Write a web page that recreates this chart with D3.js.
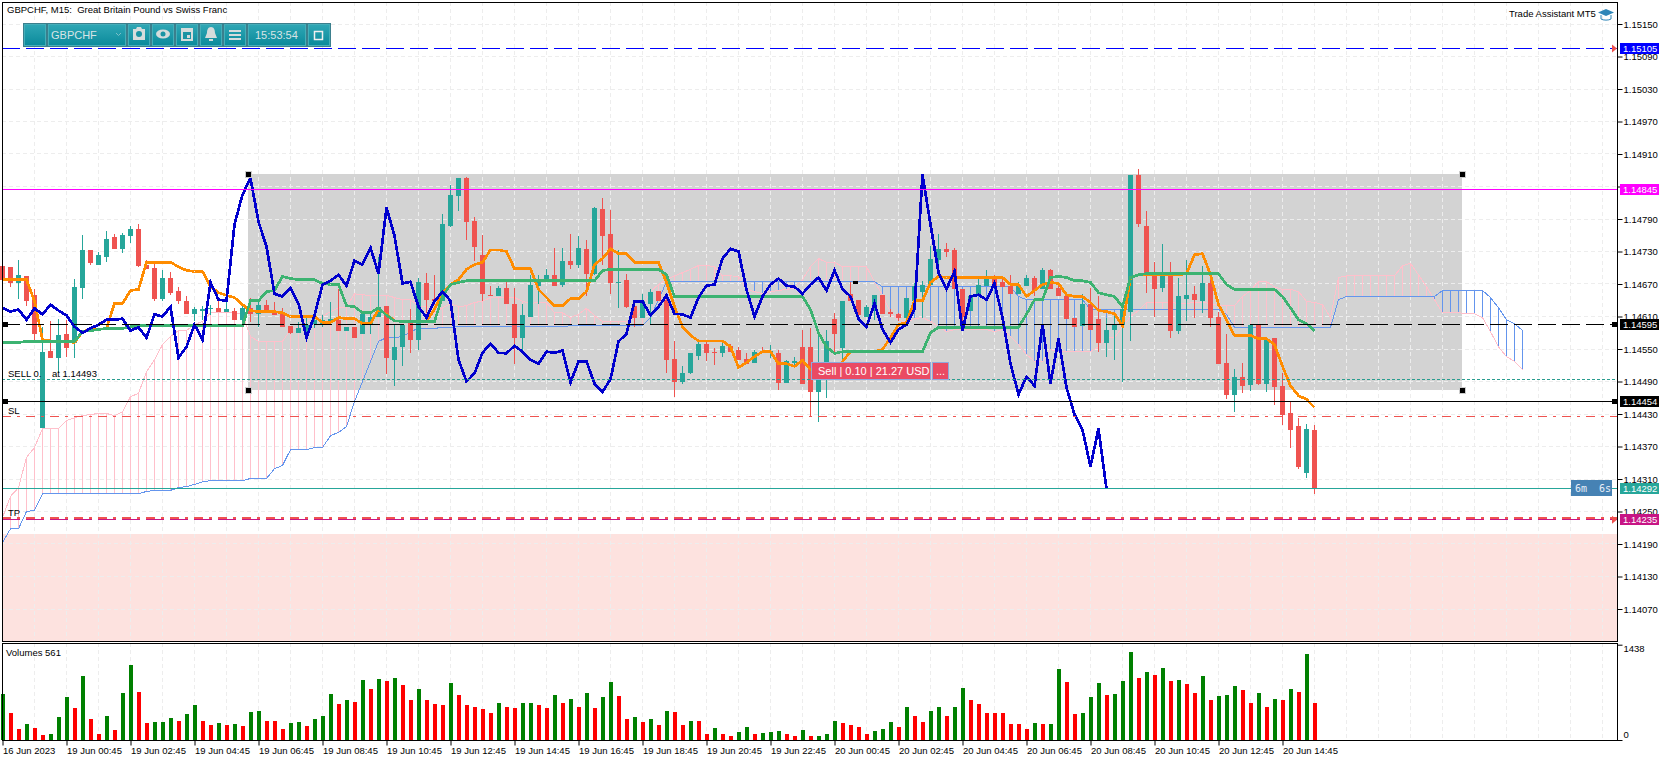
<!DOCTYPE html>
<html lang="en">
<head>
<meta charset="utf-8">
<title>GBPCHF, M15</title>
<script src="https://d3js.org/d3.v7.min.js"></script>
<style type="text/css">
	html, body { margin: 0; padding: 0; background: #fff; overflow: hidden; }
	svg { display: block; }
	text { font-family: "Liberation Sans", sans-serif; font-size: 9.5px; fill: #000; }
	.tick text { font-family: "Liberation Sans", sans-serif; font-size: 9.5px; }
</style>
</head>
<body>
<script type="text/javascript">
// prices are kept in points (1.14595 -> 114595)
var opens = [114704,114702,114671,114684,114649,114405,114547,114534,114577,114562,
114663,114732,114706,114719,114756,114735,114759,114772,114706,114700,
114643,114682,114658,114639,114615,114621,114623,114625,114619,114621,
114604,114625,114614,114632,114621,114615,114593,114580,114582,114597,
114595,114599,114604,114584,114590,114577,114595,114610,114630,114530,
114553,114599,114567,114671,114643,114638,114778,114833,114865,114787,
114724,114650,114647,114663,114634,114571,114610,114667,114676,114687,
114669,114713,114706,114735,114689,114809,114763,114671,114678,114630,
114608,114634,114658,114641,114532,114490,114505,114538,114560,114545,
114542,114556,114549,114532,114525,114547,114545,114543,114488,114525,
114554,114554,114471,114508,114606,114551,114652,114641,114610,114623,
114649,114619,114614,114608,114638,114656,114669,114715,114735,114732,
114660,114621,114649,114667,114682,114673,114667,114652,114667,114682,
114660,114695,114663,114647,114608,114593,114634,114606,114562,114586,
114595,114619,114872,114778,114693,114663,114693,114584,114643,114652,
114639,114671,114610,114525,114466,114499,114484,114595,114486,114571,
114482,114431,114407,114322,114401];
var closes = [114678,114671,114687,114639,114577,114545,114534,114575,114551,114665,
114732,114708,114724,114754,114735,114761,114772,114704,114698,114643,
114682,114654,114639,114614,114623,114623,114626,114619,114623,114604,
114625,114614,114632,114621,114612,114591,114580,114588,114595,114604,
114604,114606,114584,114590,114571,114614,114610,114628,114534,114554,
114595,114567,114673,114641,114639,114780,114835,114865,114785,114739,
114652,114647,114663,114634,114571,114612,114669,114676,114687,114667,
114713,114706,114737,114689,114811,114759,114671,114674,114628,114608,
114638,114656,114639,114530,114490,114505,114543,114560,114543,114542,
114556,114545,114530,114523,114545,114543,114547,114488,114527,114527,
114486,114471,114494,114564,114578,114638,114638,114612,114628,114649,
114615,114614,114608,114645,114667,114669,114717,114735,114730,114660,
114610,114647,114669,114680,114667,114665,114652,114669,114682,114658,
114695,114661,114647,114606,114591,114634,114586,114562,114586,114595,
114623,114872,114780,114691,114661,114693,114584,114647,114650,114641,
114671,114608,114523,114466,114499,114482,114595,114486,114569,114479,
114429,114401,114333,114403,114292];
var highs = [114706,114702,114715,114684,114660,114590,114602,114606,114604,114680,
114761,114732,114730,114767,114763,114765,114778,114780,114715,114708,
114695,114693,114665,114647,114628,114630,114632,114641,114636,114626,
114630,114645,114638,114641,114636,114626,114593,114599,114608,114614,
114612,114636,114660,114590,114590,114614,114615,114719,114630,114595,
114595,114623,114682,114691,114687,114800,114852,114865,114868,114793,
114761,114667,114667,114678,114663,114634,114687,114687,114698,114737,
114737,114763,114758,114752,114813,114828,114807,114733,114689,114630,
114652,114660,114658,114647,114564,114519,114543,114564,114567,114551,
114567,114560,114554,114543,114549,114553,114558,114549,114530,114536,
114586,114588,114586,114586,114617,114638,114674,114641,114632,114649,
114649,114623,114617,114645,114671,114676,114741,114763,114745,114737,
114660,114647,114685,114695,114687,114682,114687,114673,114687,114685,
114700,114697,114669,114652,114608,114652,114663,114647,114608,114614,
114636,114872,114883,114804,114710,114743,114711,114682,114715,114667,
114704,114684,114619,114578,114514,114525,114597,114597,114573,114571,
114506,114453,114423,114412,114410];
var lows = [114669,114665,114643,114630,114564,114405,114534,114506,114536,114534,
114643,114706,114706,114710,114735,114728,114746,114702,114698,114638,
114639,114649,114634,114614,114602,114604,114612,114619,114619,114604,
114599,114599,114590,114621,114612,114590,114578,114580,114571,114588,
114590,114599,114584,114584,114571,114577,114577,114610,114503,114482,
114518,114543,114549,114617,114632,114638,114776,114804,114752,114713,
114638,114647,114647,114634,114523,114549,114610,114634,114673,114667,
114665,114697,114700,114647,114687,114706,114652,114626,114625,114590,
114608,114595,114639,114506,114462,114486,114503,114529,114527,114521,
114536,114545,114530,114523,114525,114543,114534,114475,114488,114519,
114486,114425,114416,114460,114542,114530,114638,114612,114610,114604,
114615,114610,114602,114604,114634,114608,114669,114687,114719,114660,
114586,114621,114649,114667,114667,114665,114652,114652,114667,114647,
114660,114660,114647,114606,114591,114593,114586,114545,114536,114529,
114490,114564,114776,114654,114610,114656,114571,114577,114601,114608,
114617,114590,114523,114458,114434,114468,114473,114484,114470,114447,
114409,114368,114329,114311,114283];

var tenkan = [114678,114678,114678,114678,114638,114567,114565,114565,114564,114562,
114582,114586,114586,114588,114634,114634,114658,114660,114710,114710,
114710,114710,114702,114695,114693,114693,114665,114654,114649,114645,
114632,114621,114619,114619,114619,114617,114610,114610,114610,114610,
114599,114599,114608,114606,114606,114597,114597,114623,114614,114602,
114601,114601,114601,114601,114623,114654,114669,114678,114697,114706,
114710,114733,114733,114730,114698,114698,114698,114660,114645,114630,
114630,114643,114643,114656,114706,114717,114735,114726,114726,114710,
114710,114710,114710,114673,114628,114591,114575,114565,114565,114565,
114565,114554,114516,114525,114536,114545,114545,114523,114523,114518,
114529,114512,114508,114508,114503,114527,114545,114545,114545,114545,
114549,114571,114595,114599,114639,114639,114673,114684,114682,114682,
114682,114682,114682,114682,114682,114682,114669,114669,114647,114658,
114669,114673,114671,114650,114647,114647,114636,114621,114619,114615,
114593,114682,114687,114687,114687,114687,114687,114687,114689,114724,
114726,114687,114632,114604,114575,114575,114575,114569,114569,114558,
114518,114482,114464,114457,114442];
var kijun = [114562,114562,114562,114564,114564,114564,114564,114564,114564,114564,
114582,114584,114586,114588,114588,114588,114591,114593,114593,114593,
114593,114593,114593,114593,114593,114593,114593,114593,114593,114593,
114593,114639,114639,114656,114658,114684,114680,114678,114678,114678,
114671,114669,114669,114630,114628,114617,114617,114626,114612,114602,
114601,114601,114601,114601,114601,114647,114669,114673,114676,114676,
114676,114676,114676,114676,114676,114676,114676,114676,114676,114676,
114676,114676,114676,114676,114676,114695,114697,114697,114697,114697,
114697,114697,114697,114687,114647,114647,114647,114647,114647,114647,
114647,114647,114647,114647,114647,114647,114647,114647,114647,114647,
114647,114623,114580,114554,114542,114545,114545,114545,114545,114545,
114545,114545,114545,114545,114545,114545,114580,114590,114590,114590,
114590,114590,114590,114590,114590,114590,114590,114590,114614,114641,
114641,114682,114684,114682,114676,114676,114673,114654,114650,114647,
114628,114682,114687,114689,114689,114689,114689,114689,114689,114689,
114689,114689,114689,114669,114660,114660,114660,114660,114660,114660,
114647,114626,114604,114597,114584];
// both cloud lines run 26 bars past the last candle
var senkouA = [114239,114278,114294,114350,114368,114403,114403,114403,114418,114423,
114427,114429,114431,114431,114427,114434,114462,114468,114508,114530,
114558,114573,114584,114584,114595,114601,114617,114617,114617,114617,
114614,114573,114564,114564,114564,114564,114586,114591,114601,114604,
114610,114619,114626,114628,114652,114650,114649,114649,114649,114645,
114641,114641,114630,114628,114617,114626,114634,114628,114630,114636,
114638,114645,114645,114645,114645,114638,114634,114636,114636,114617,
114617,114608,114614,114625,114612,114601,114601,114601,114601,114608,
114628,114656,114669,114678,114685,114691,114697,114704,114704,114702,
114685,114685,114684,114660,114656,114652,114656,114658,114660,114663,
114678,114702,114717,114710,114710,114702,114702,114702,114702,114674,
114650,114617,114604,114599,114606,114608,114601,114591,114582,114586,
114586,114586,114586,114586,114582,114586,114573,114558,114540,114527,
114527,114549,114545,114545,114545,114545,114545,114554,114571,114571,
114591,114610,114621,114636,114636,114636,114636,114634,114634,114636,
114636,114634,114630,114630,114630,114647,114658,114674,114674,114665,
114660,114660,114656,114638,114636,114632,114608,114682,114685,114685,
114685,114685,114685,114685,114685,114704,114708,114687,114665,114641,
114617,114617,114617,114615,114615,114608,114582,114554,114536,114527,114512];
var senkouB = [114193,114218,114218,114250,114252,114283,114283,114283,114283,114283,
114283,114283,114283,114283,114283,114283,114283,114283,114287,114289,
114289,114289,114294,114296,114300,114305,114307,114307,114307,114307,
114307,114311,114311,114311,114329,114335,114364,114364,114364,114368,
114368,114390,114396,114407,114453,114490,114527,114564,114571,114571,
114573,114582,114588,114588,114588,114590,114590,114591,114591,114591,
114591,114591,114591,114591,114591,114591,114591,114591,114591,114591,
114591,114593,114593,114593,114593,114593,114593,114593,114593,114593,
114593,114608,114641,114674,114674,114674,114674,114674,114674,114674,
114674,114674,114674,114674,114674,114674,114674,114674,114674,114674,
114674,114674,114674,114674,114674,114674,114674,114674,114674,114674,
114665,114665,114665,114665,114665,114665,114665,114665,114665,114665,
114665,114665,114665,114665,114665,114665,114665,114647,114641,114641,
114641,114641,114641,114641,114641,114641,114623,114623,114623,114623,
114623,114623,114623,114623,114623,114623,114623,114623,114623,114623,
114623,114623,114623,114614,114590,114590,114590,114590,114590,114590,
114590,114590,114590,114590,114590,114590,114590,114641,114647,114647,
114647,114647,114647,114647,114647,114647,114647,114647,114647,114647,
114658,114658,114658,114658,114658,114658,114645,114626,114604,114597,114584];

var volumes = [694,407,166,241,181,75,91,347,649,483,
966,317,91,362,151,709,1132,724,257,272,
272,332,287,392,528,287,226,257,226,241,
211,423,438,287,287,166,257,272,211,317,
362,694,543,604,573,905,770,920,890,936,
830,604,770,604,543,528,860,679,528,498,
468,407,558,498,483,558,558,528,483,679,
558,619,498,709,483,649,875,664,317,347,
272,317,226,438,423,226,287,287,91,181,
91,60,121,196,91,106,121,136,91,60,
151,60,60,91,287,257,226,196,91,136,
166,272,196,498,362,272,438,498,362,498,
785,604,543,407,407,407,241,241,166,257,
241,241,1071,875,392,407,649,860,679,694,
890,1328,936,1026,981,1086,890,905,845,709,
966,604,664,679,815,755,558,709,498,619,
604,770,724,1298,561];
var volumeDir = "GRRGRRGGGR" + "GRRGRGGRRG" + "GGRGGRRGRG" + "RGGRRRGGRG" + "GGRGRGRGRG" +
	"RRGRRRGRRR" + "RRGRRGGRRG" + "RGRGRGGRRG" + "RGRGRRGRRG" + "RRGGRGGGRR" +
	"GRGGGRRRRG" + "GGRGRRGGRG" + "GRRRRRRRRG" + "RGGRRGGGRG" + "GGRGRGRGRR" +
	"GRGGGRRGRG" + "RGRGR";

var timeLabels = ["16 Jun 2023","19 Jun 00:45","19 Jun 02:45","19 Jun 04:45","19 Jun 06:45","19 Jun 08:45",
	"19 Jun 10:45","19 Jun 12:45","19 Jun 14:45","19 Jun 16:45","19 Jun 18:45","19 Jun 20:45","19 Jun 22:45",
	"20 Jun 00:45","20 Jun 02:45","20 Jun 04:45","20 Jun 06:45","20 Jun 08:45","20 Jun 10:45","20 Jun 12:45","20 Jun 14:45"];
var priceTicks = d3.range(114070, 115151, 60);
var chikouShift = 26;

var width = 1670;
var height = 761;
var left = 2, right = 1617, mainTop = 2, mainBottom = 641, volTop = 643, volBottom = 740;

var x = d3.scaleLinear().domain([0, 201]).range([2.5, 1610.5]);
var y = d3.scaleLinear().domain([115150, 114070]).range([24, 609]);
var yVol = d3.scaleLinear().domain([0, 1438]).range([volBottom, 644.7]);

var svg = d3.select("body").append("svg").attr("width", width).attr("height", height);

var upColor = "#26a69a", downColor = "#ef5350";
function pts(p) { return (p / 100000).toFixed(5); }
function snap(p) { return Math.floor(y(p)) + 0.5; }

// background objects
var back = svg.append("g").attr("shape-rendering", "crispEdges");
back.append("rect").attr("x", left).attr("width", right - left)
	.attr("y", y(114209)).attr("height", mainBottom - y(114209)).attr("fill", "#fde2df");
back.append("rect").attr("x", 248).attr("width", 1462 - 248)
	.attr("y", 174).attr("height", 390 - 174).attr("fill", "#d3d3d3");

// grid
var grid = svg.append("g").attr("shape-rendering", "crispEdges")
	.attr("stroke", "#ededed").attr("stroke-dasharray", "4,3");
grid.selectAll(".gh").data(priceTicks).enter().append("line")
	.attr("x1", left).attr("x2", right)
	.attr("y1", snap)
	.attr("y2", snap);
[[mainTop, mainBottom], [volTop, volBottom]].forEach(function(r) {
	grid.append("g").selectAll("line").data(d3.range(4, 201, 4)).enter().append("line")
		.attr("x1", function(d) { return x(d); }).attr("x2", function(d) { return x(d); })
		.attr("y1", r[0]).attr("y2", r[1]);
});

// ichimoku cloud: a hatch line per bar and the two edges
var cloud = svg.append("g").attr("shape-rendering", "crispEdges");
cloud.selectAll("line").data(senkouA).enter().append("line")
	.attr("x1", function(d, i) { return x(i); }).attr("x2", function(d, i) { return x(i); })
	.attr("y1", function(d) { return y(d); })
	.attr("y2", function(d, i) { return y(senkouB[i]); })
	.attr("stroke", function(d, i) { return d >= senkouB[i] ? "#ffc0cb" : "#6495ed"; });

function lineOf(values) {
	return d3.line().x(function(d, i) { return x(i); }).y(function(d) { return y(d); })(values);
}
cloud.append("path").attr("d", lineOf(senkouA)).attr("fill", "none").attr("stroke", "#ffc0cb");
cloud.append("path").attr("d", lineOf(senkouB)).attr("fill", "none").attr("stroke", "#6495ed");

// candles
var candles = svg.append("g").attr("shape-rendering", "crispEdges");
candles.selectAll("line").data(opens).enter().append("line")
	.attr("x1", function(d, i) { return x(i); }).attr("x2", function(d, i) { return x(i); })
	.attr("y1", function(d, i) { return y(highs[i]); })
	.attr("y2", function(d, i) { return y(lows[i]); })
	.attr("stroke", function(d, i) { return closes[i] >= d ? upColor : downColor; });
candles.selectAll("rect").data(opens).enter().append("rect")
	.attr("x", function(d, i) { return x(i) - 2.5; })
	.attr("width", 5)
	.attr("y", function(d, i) { return y(Math.max(d, closes[i])); })
	.attr("height", function(d, i) { return Math.max(1, Math.abs(y(d) - y(closes[i]))); })
	.attr("fill", function(d, i) { return closes[i] >= d ? upColor : downColor; });

// tenkan, kijun, chikou
var lines = svg.append("g").attr("fill", "none").attr("stroke-width", 2.7).attr("shape-rendering", "crispEdges");
lines.append("path").attr("d", lineOf(tenkan)).attr("stroke", "#ff8c00");
lines.append("path").attr("d", lineOf(kijun)).attr("stroke", "#3cb371");
lines.append("path").attr("d", lineOf(closes.slice(chikouShift))).attr("stroke", "#0000cd");

// chart objects: horizontal levels
var levels = svg.append("g").attr("shape-rendering", "crispEdges");
function level(py, color, dash, w) {
	levels.append("line").attr("x1", left).attr("x2", right).attr("y1", py).attr("y2", py)
		.attr("stroke", color).attr("stroke-dasharray", dash || null).attr("stroke-width", w || 1);
}
level(snap(115105), "#0000ff", "18,6");
level(snap(114845), "#ff00ff");
level(snap(114595), "#000000", "18,6");
level(snap(114454), "#000000");
level(snap(114493), "#2a9d8f", "3,2");
level(snap(114426), "#ef5350", "9,6,3,6");
level(snap(114292), "#26a69a");
level(snap(114235), "#c71585", "18,6");
level(snap(114235) - 1.5, "#ef5350", "9,6,3,6", 2);

// volumes
var vols = svg.append("g").attr("shape-rendering", "crispEdges");
vols.selectAll("rect").data(volumes).enter().append("rect")
	.attr("x", function(d, i) { return x(i) - 2; })
	.attr("width", 4)
	.attr("y", function(d) { return yVol(d); })
	.attr("height", function(d) { return volBottom - yVol(d); })
	.attr("fill", function(d, i) { return volumeDir[i] == "G" ? "#008000" : "#ff0000"; });

// frames
var frames = svg.append("g").attr("fill", "none").attr("stroke", "#000").attr("shape-rendering", "crispEdges");
frames.append("rect").attr("x", left + 0.5).attr("y", mainTop + 0.5).attr("width", right - left).attr("height", mainBottom - mainTop);
frames.append("rect").attr("x", left + 0.5).attr("y", volTop + 0.5).attr("width", right - left).attr("height", volBottom - volTop);

// axes
var axisPrice = d3.axisRight(y).tickValues(priceTicks).tickFormat(pts).tickSize(5).tickPadding(1);
var gp = svg.append("g").attr("transform", "translate(" + (right + 0.5) + ",0)").call(axisPrice);
gp.select(".domain").remove();

var axisVol = d3.axisRight(yVol).tickValues([0, 1438]).tickSize(5).tickPadding(1).tickFormat(d3.format("d"));
var gv = svg.append("g").attr("transform", "translate(" + (right + 0.5) + ",0)").call(axisVol);
gv.select(".domain").remove();
gv.selectAll(".tick text").attr("dy", function(d) { return d == 0 ? "-3px" : "7px"; });

var axisTime = d3.axisBottom(x).tickValues(d3.range(0, 161, 8))
	.tickFormat(function(d, i) { return timeLabels[i]; }).tickSize(5).tickPadding(2);
var gt = svg.append("g").attr("transform", "translate(0," + (volBottom + 0.5) + ")").call(axisTime);
gt.select(".domain").remove();
gt.selectAll(".tick text").attr("text-anchor", "start");

// price tags on the axis
var tags = [[115105, "#0000ff"], [114845, "#ff00ff"], [114595, "#000000"], [114454, "#000000"], [114292, "#26a69a"], [114235, "#c71585"]];
tags.forEach(function(t) {
	var py = Math.floor(y(t[0]));
	svg.append("rect").attr("x", 1620).attr("y", py - 5).attr("width", 39).attr("height", 11)
		.attr("fill", t[1]).attr("shape-rendering", "crispEdges");
	svg.append("text").attr("x", 1623).attr("y", py + 3.5).style("fill", "#fff").text(pts(t[0]));
});

// texts
svg.append("text").attr("x", 7).attr("y", 13).text("GBPCHF, M15:  Great Britain Pound vs Swiss Franc").attr("xml:space", "preserve");
svg.append("text").attr("x", 1509).attr("y", 17).text("Trade Assistant MT5");
svg.append("text").attr("x", 6).attr("y", 656).text("Volumes 561");
svg.append("text").attr("x", 8).attr("y", 377).text("SELL 0.    at 1.14493").attr("xml:space", "preserve");
svg.append("text").attr("x", 8).attr("y", 414).text("SL");
svg.append("text").attr("x", 8).attr("y", 516).text("TP");

// handles
function handle(hx, hy, border) {
	if (border) svg.append("rect").attr("x", hx - 3.5).attr("y", hy - 3.5).attr("width", 7).attr("height", 7).attr("fill", "#ccc").attr("shape-rendering", "crispEdges");
	svg.append("rect").attr("x", hx - 2.5).attr("y", hy - 2.5).attr("width", 5).attr("height", 5).attr("fill", "#000").attr("shape-rendering", "crispEdges");
}
[[248, 174], [1462, 174], [248, 390], [1462, 390]].forEach(function(h) { handle(h[0], h[1], true); });
[[5, y(114595)], [5, y(114454)], [1614, y(114595)], [1614, y(114454)]].forEach(function(h) { handle(h[0], h[1], false); });
svg.append("rect").attr("x", 853).attr("y", 281).attr("width", 5).attr("height", 3).attr("fill", "#000");

// arrows at right end
[115105, 114235].forEach(function(p) {
	svg.append("path").attr("fill", "#ef5350")
		.attr("d", "M1612," + (y(p) - 4) + "l5,4l-5,4z");
});

// countdown
svg.append("rect").attr("x", 1571).attr("y", 480).attr("width", 41).attr("height", 16).attr("fill", "#4682b4").attr("shape-rendering", "crispEdges");
svg.append("text").attr("x", 1575).attr("y", 492).attr("xml:space", "preserve")
	.style("font-family", "DejaVu Sans Mono").style("font-size", "10px").style("fill", "#e8eef8").text("6m  6s");

// trade label
var sell = svg.append("g");
sell.append("rect").attr("x", 811).attr("y", 362).attr("width", 119).attr("height", 17).attr("fill", "#ea4a63").attr("stroke", "#8fa8dc").attr("shape-rendering", "crispEdges");
sell.append("rect").attr("x", 932).attr("y", 362).attr("width", 16).attr("height", 17).attr("fill", "#ea4a63").attr("stroke", "#8fa8dc").attr("shape-rendering", "crispEdges");
sell.append("text").attr("x", 818).attr("y", 374.5).style("font-size", "11px").style("fill", "#fff").text("Sell | 0.10 | 21.27 USD");
sell.append("text").attr("x", 936).attr("y", 374.5).style("font-size", "11px").style("fill", "#fff").text("...");

// toolbar
var defs = svg.append("defs");
var grad = defs.append("linearGradient").attr("id", "tb").attr("x1", 0).attr("x2", 0).attr("y1", 0).attr("y2", 1);
grad.append("stop").attr("offset", "0%").attr("stop-color", "#2fa7b5");
grad.append("stop").attr("offset", "100%").attr("stop-color", "#0b8a9b");
var bar = svg.append("g");
bar.append("rect").attr("x", 23).attr("y", 23).attr("width", 308).attr("height", 24).attr("fill", "#3b7f8d").attr("shape-rendering", "crispEdges");
[[24, 22], [48, 78], [128, 22], [152, 22], [176, 22], [200, 22], [224, 22], [248, 58], [308, 22]].forEach(function(b) {
	bar.append("rect").attr("x", b[0] + 0.5).attr("y", 24.5).attr("width", b[1] - 1).attr("height", 21)
		.attr("fill", "url(#tb)").attr("stroke", "#45aeb9").attr("shape-rendering", "crispEdges");
});
bar.append("text").attr("x", 51).attr("y", 38.5).style("font-size", "11px").style("fill", "#d8e4e6").text("GBPCHF");
bar.append("text").attr("x", 255).attr("y", 38.5).style("font-size", "11px").style("fill", "#d8e4e6").text("15:53:54");
var ic = "#d6dcdc";
bar.append("path").attr("d", "M116,33l2.5,2.5l2.5,-2.5").attr("fill", "none").attr("stroke", "#7cc0c8");
// camera
bar.append("path").attr("fill", ic).attr("d", "M133,29h3l1,-2h4l1,2h3v11h-12z");
bar.append("circle").attr("cx", 139).attr("cy", 34).attr("r", 3).attr("fill", "#1a94a4");
// eye
bar.append("ellipse").attr("cx", 163).attr("cy", 34).attr("rx", 7).attr("ry", 4.5).attr("fill", ic);
bar.append("circle").attr("cx", 163).attr("cy", 34).attr("r", 2.5).attr("fill", "#1a94a4");
// calendar
bar.append("rect").attr("x", 181).attr("y", 28).attr("width", 12).attr("height", 13).attr("fill", ic);
bar.append("rect").attr("x", 183).attr("y", 32).attr("width", 8).attr("height", 7).attr("fill", "#1a94a4");
bar.append("rect").attr("x", 187).attr("y", 35).attr("width", 3).attr("height", 3).attr("fill", ic);
// bell
bar.append("path").attr("fill", ic).attr("d", "M211,27c-3,0,-4,3,-4,6l-2,5h12l-2,-5c0,-3,-1,-6,-4,-6z");
bar.append("rect").attr("x", 209).attr("y", 39).attr("width", 4).attr("height", 2).attr("fill", ic);
// menu
[30, 34, 38].forEach(function(m) {
	bar.append("rect").attr("x", 229).attr("y", m).attr("width", 12).attr("height", 2).attr("fill", ic);
});
// restore
bar.append("rect").attr("x", 314.5).attr("y", 31.5).attr("width", 8).attr("height", 8).attr("fill", "none").attr("stroke", "#f0f0f0").attr("stroke-width", 1.5);

// cap icon
var cap = svg.append("g").attr("fill", "#2f86b8");
cap.append("path").attr("d", "M1606,9l8,3.5l-8,3.5l-8,-3.5z");
cap.append("path").attr("fill", "none").attr("stroke", "#2f86b8").attr("d", "M1601,15v4c2,1.5,8,1.5,10,0v-4");
</script>
</body>
</html>
